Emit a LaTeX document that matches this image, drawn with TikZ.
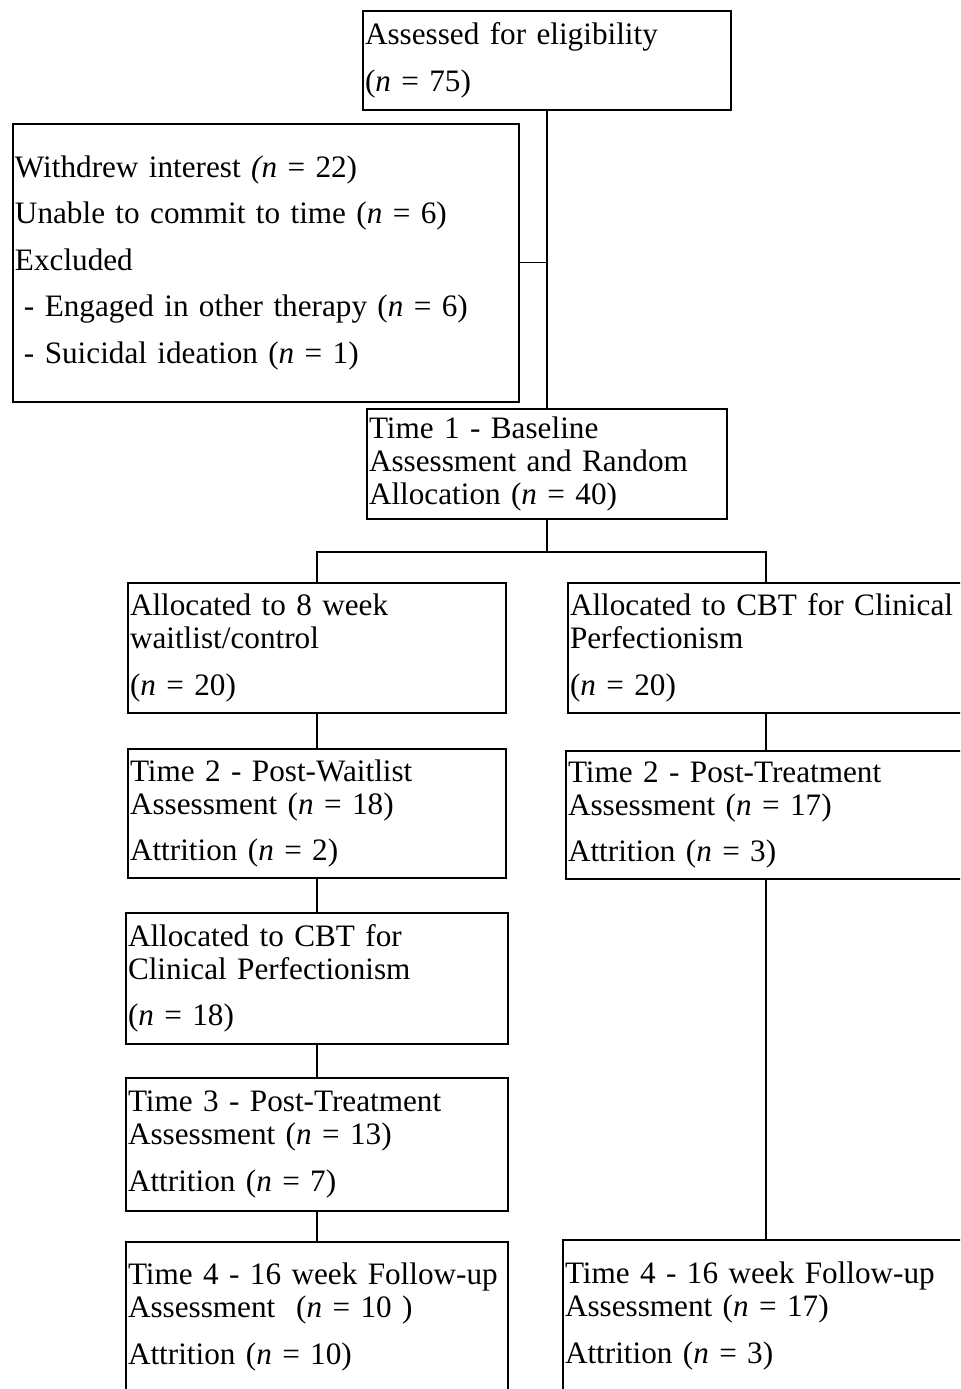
\documentclass[tikz,border=0pt]{standalone}
\usepackage{fontspec}
\setmainfont{Liberation Serif}
\usetikzlibrary{positioning, calc}

\begin{document}
\begin{tikzpicture}[
    x=0.5pt, y=-0.5pt,
    node distance=17pt and 20pt,
    every node/.style={font=\fontsize{15.6}{16.5}\selectfont},
    stagebox/.style={rectangle, draw, line width=1pt, inner xsep=1pt, inner ysep=0pt, align=left, text width=#1},
    stagebox/.default={187pt},
    link/.style={line width=0.8pt}
]
\useasboundingbox (0,0) rectangle (960,1389);
\clip (0,0) rectangle (960,1389);

% Enrolment
\node[stagebox=182pt, minimum height=49.5pt] (assessed) at (547,60.5) {Assessed for eligibility\\[6.75pt](\textit{n} = 75)};
\node[stagebox=178pt, minimum height=55pt, below=148.5pt of assessed] (baseline) {Time 1 - Baseline\\Assessment and Random\\Allocation (\textit{n} = 40)};
\coordinate (exclSplit) at ($(assessed.south)!0.5!(baseline.north)$);
\node[stagebox=251pt, minimum height=139pt, left=13.5pt of exclSplit, yshift=-1.5pt] (excluded) {Withdrew interest \textit{(n} = 22)\\[6.75pt]Unable to commit to time (\textit{n} = 6)\\[6.75pt]Excluded\\[6.75pt]\hspace*{4.5pt}- Engaged in other therapy (\textit{n} = 6)\\[6.75pt]\hspace*{4.5pt}- Suicidal ideation (\textit{n} = 1)};
\coordinate[below=16pt of baseline.south] (split);

% Waitlist arm (left)
\node[stagebox, minimum height=65pt] (waitAlloc) at (317,648) {Allocated to 8 week\\waitlist/control\\[6.75pt](\textit{n} = 20)};
\node[stagebox, minimum height=64.5pt, below=17pt of waitAlloc] (postWait) {Time 2 - Post-Waitlist\\Assessment (\textit{n} = 18)\\[6.75pt]Attrition (\textit{n} = 2)};
\node[stagebox=189pt, minimum height=65.5pt, below=16.5pt of postWait] (waitCbt) {Allocated to CBT for\\Clinical Perfectionism\\[6.75pt](\textit{n} = 18)};
\node[stagebox=189pt, minimum height=66.5pt, below=16pt of waitCbt] (time3) {Time 3 - Post-Treatment\\Assessment (\textit{n} = 13)\\[6.75pt]Attrition (\textit{n} = 7)};
\node[stagebox=189pt, minimum height=75pt, below=14.5pt of time3] (followWait) {Time 4 - 16 week Follow-up\\Assessment\ \ (\textit{n} = 10 )\\[6.75pt]Attrition (\textit{n} = 10)};

% CBT arm (right)
\node[stagebox=196pt, minimum height=65pt] (cbtAlloc) at (766,648) {Allocated to CBT for Clinical\\Perfectionism\\[6.75pt](\textit{n} = 20)};
\node[stagebox=198pt, minimum height=64pt, below=18pt of cbtAlloc] (postTreat) {Time 2 - Post-Treatment\\Assessment (\textit{n} = 17)\\[6.75pt]Attrition (\textit{n} = 3)};
\node[stagebox=201pt, minimum height=76pt, below=179.5pt of postTreat] (followCbt) {Time 4 - 16 week Follow-up\\Assessment (\textit{n} = 17)\\[6.75pt]Attrition (\textit{n} = 3)};

% Lines
\draw[link] (assessed) -- (baseline);
\draw[link] (excluded.east) -- (excluded.east -| assessed.south);
\draw[link] (baseline) -- (split);
\draw[link] (waitAlloc.north) |- (split) -| (cbtAlloc.north);
\draw[link] (waitAlloc) -- (postWait);
\draw[link] (postWait) -- (waitCbt);
\draw[link] (waitCbt) -- (time3);
\draw[link] (time3) -- (followWait);
\draw[link] (cbtAlloc) -- (postTreat);
\draw[link] (postTreat) -- (followCbt);

\end{tikzpicture}
\end{document}
